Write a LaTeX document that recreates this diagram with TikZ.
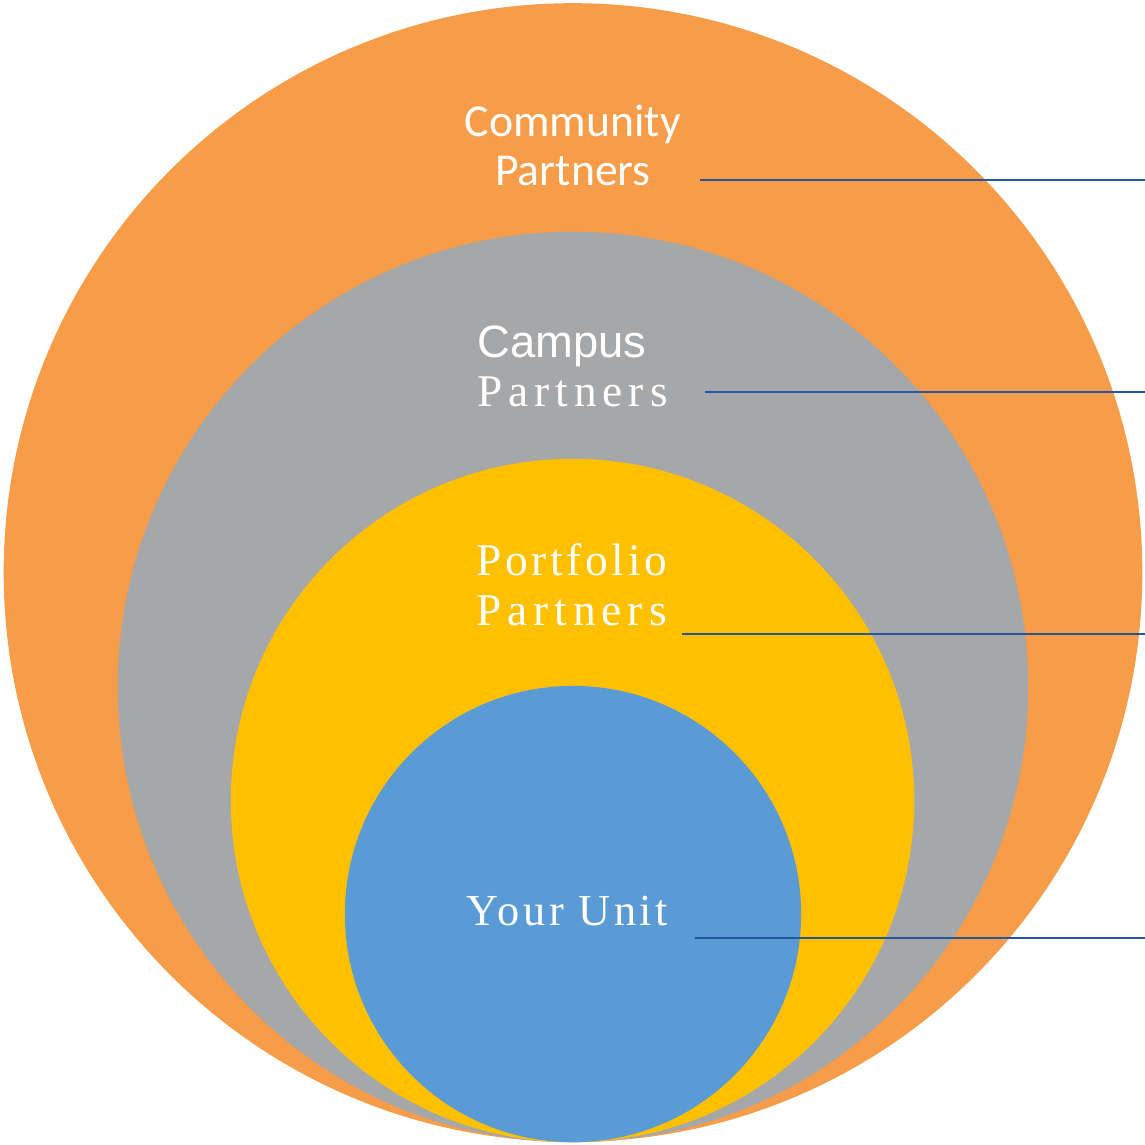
\documentclass[tikz,border=0pt]{standalone}
\usepackage{fontspec}
\setmainfont{Liberation Serif}
\newfontfamily\calibrifont{Carlito}
\newfontfamily\arialfont{Liberation Sans}
\newfontfamily\spacedfont[LetterSpace=13]{Liberation Serif}
\newfontfamily\lightspacedfont[LetterSpace=8]{Liberation Serif}
\definecolor{orangering}{RGB}{247,156,72}
\definecolor{grayring}{RGB}{166,167,169}
\definecolor{yellowring}{RGB}{255,192,0}
\definecolor{bluering}{RGB}{91,155,213}
\definecolor{leadblue}{RGB}{38,87,158}
\begin{document}
\begin{tikzpicture}[x=0.01cm, y=-0.01cm,
        ring/.style={circle, inner sep=0pt, draw=none},
        ringtext/.style={text=white, inner sep=0pt},
        leader/.style={draw=leadblue, line width=0.6pt}]

        \useasboundingbox (0,0) rectangle (1145,1144);

        \node[ring, fill=orangering, minimum size=11.38cm] (community) at (573,572.5) {};
        \node[ring, fill=grayring, minimum size=9.10cm] (campus) at (573,687) {};
        \node[ring, fill=yellowring, minimum size=6.83cm] (portfolio) at (572.5,800.5) {};
        \node[ring, fill=bluering, minimum size=4.56cm] (unit) at (573,914) {};

        \node[ringtext, font=\calibrifont\fontsize{13}{13.9}\selectfont, align=center, anchor=base] (communitytext) at (573,185) {Community\\Partners};
        \node[ringtext, font=\fontsize{12.9}{13.7}\selectfont, align=left, anchor=base west] (campustext) at (477,406) {{\arialfont\fontsize{12.9}{13.7}\selectfont Campus}\\{\spacedfont\fontsize{12.9}{13.7}\selectfont Partners}};
        \node[ringtext, font=\fontsize{12.9}{14.2}\selectfont, align=left, anchor=base west] (portfoliotext) at (476,625) {{\lightspacedfont Portfolio}\\{\spacedfont Partners}};
        \node[ringtext, font=\lightspacedfont\fontsize{12.6}{14}\selectfont, anchor=base west] (unittext) at (466,925) {Your Unit};

        \coordinate (c1) at (700,180);
        \coordinate (c2) at (705,392);
        \coordinate (c3) at (682,634);
        \coordinate (c4) at (695,938);
        \coordinate (e1) at (1145,180);
        \coordinate (e2) at (1145,392);
        \coordinate (e3) at (1145,634);
        \coordinate (e4) at (1145,938);

        \draw[leader] (c1) -- (e1);
        \draw[leader] (c2) -- (e2);
        \draw[leader] (c3) -- (e3);
        \draw[leader] (c4) -- (e4);
    \end{tikzpicture}
\end{document}
